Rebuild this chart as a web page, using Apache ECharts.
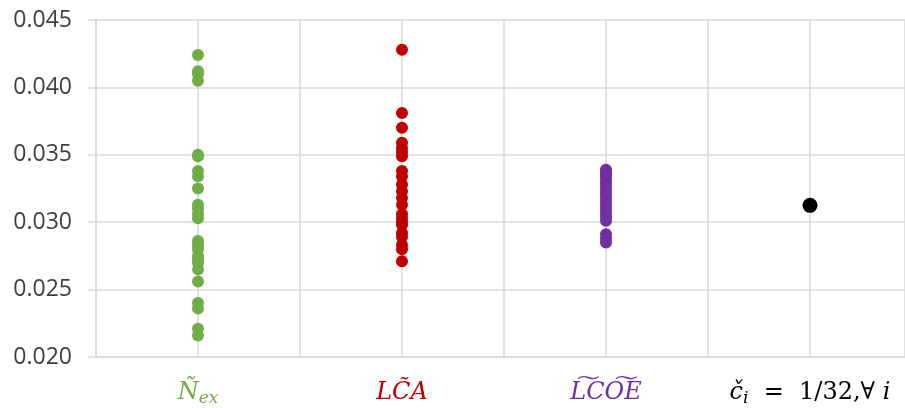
<!DOCTYPE html>
<html>
<head>
<meta charset="utf-8">
<script src="https://cdn.jsdelivr.net/npm/echarts@6/dist/echarts.min.js"></script>
<style>
html,body{margin:0;padding:0;background:#fff;}
#chart{width:905px;height:408px;}
</style>
</head>
<body>
<div id="chart"></div>
<script>
// Category positions (centres of the four groups on a value axis, one unit per group)
const categoryPositions = [0.5, 1.5, 2.5, 3.5];
const categoryNames = ['Nex', 'LCA', 'LCOE', 'ci'];

const yTicks = [0.020, 0.025, 0.030, 0.035, 0.040, 0.045];

const nexValues = [0.0424, 0.0412, 0.0410, 0.0405, 0.0350, 0.0349, 0.0338, 0.0334, 0.0325,
  0.0313, 0.0310, 0.0306, 0.0303, 0.0286, 0.0283, 0.0280, 0.0275, 0.0272, 0.0270, 0.0265,
  0.0256, 0.0240, 0.0236, 0.0221, 0.0216];
const lcaValues = [0.0428, 0.0381, 0.0370, 0.0359, 0.0355, 0.0352, 0.0349, 0.0338, 0.0334,
  0.0328, 0.0323, 0.0318, 0.0313, 0.0306, 0.0303, 0.0300, 0.0298, 0.0292, 0.0289, 0.0283,
  0.0280, 0.0271];
const lcoeValues = [0.0339, 0.0337, 0.0335, 0.0333, 0.0330, 0.0328, 0.0325, 0.0322, 0.0319,
  0.0316, 0.0313, 0.0310, 0.0307, 0.0304, 0.0301, 0.0291, 0.0288, 0.0285];
const ciValues = [0.03125];

function pts(pos, vals) { return vals.map(v => [pos, v]); }

const chart = echarts.init(document.getElementById('chart'), null, {renderer: 'canvas'});
const mathFont = '"DejaVu Serif", "Liberation Serif", serif';
const labelTexts = {
  0.5: '{g|Ñ}{gs|ex}',
  1.5: '{r|LC\u0303A}',
  2.5: '{p|L\u0360CO\u0360E}',
  3.5: '{k|č}{ks|i}{ku|  =  1/32,∀ }{k|i}'
};
chart.setOption({
  animation: false,
  backgroundColor: '#ffffff',
  grid: {left: 96, right: 0, top: 20, bottom: 51, containLabel: false},
  xAxis: {
    type: 'value', min: 0, max: 3.9657, interval: 0.5,
    axisLine: {show: true, lineStyle: {color: '#d9d9d9', width: 1.5}},
    axisTick: {show: false},
    splitLine: {show: true, lineStyle: {color: '#d9d9d9', width: 1.5}},
    axisLabel: {
      margin: 22,
      showMaxLabel: false,
      formatter: function (v) { return labelTexts[v] || ''; },
      rich: {
        g: {fontFamily: mathFont, fontStyle: 'italic', fontSize: 24, color: '#70AD47', lineHeight: 28},
        gs: {fontFamily: mathFont, fontStyle: 'italic', fontSize: 17, color: '#70AD47', lineHeight: 28, verticalAlign: 'bottom', padding: [13, 0, 0, 0]},
        r: {fontFamily: mathFont, fontStyle: 'italic', fontSize: 24, color: '#C00000', lineHeight: 28},
        p: {fontFamily: mathFont, fontStyle: 'italic', fontSize: 24, color: '#7030A0', lineHeight: 28},
        k: {fontFamily: mathFont, fontStyle: 'italic', fontSize: 24, color: '#000000', lineHeight: 28},
        ks: {fontFamily: mathFont, fontStyle: 'italic', fontSize: 17, color: '#000000', lineHeight: 28, verticalAlign: 'bottom', padding: [13, 0, 0, 0]},
        ku: {fontFamily: mathFont, fontSize: 24, color: '#000000', lineHeight: 28}
      }
    }
  },
  yAxis: {
    type: 'value', min: 0.020, max: 0.045, interval: 0.005,
    axisLine: {show: true, lineStyle: {color: '#d9d9d9', width: 1.5}},
    axisTick: {show: true, length: 8, lineStyle: {color: '#d9d9d9', width: 1.5}},
    splitLine: {show: true, lineStyle: {color: '#d9d9d9', width: 1.5}},
    axisLabel: {
      margin: 24,
      color: '#404040',
      fontFamily: '"Open Sans", sans-serif',
      fontSize: 23,
      formatter: v => v.toFixed(3)
    }
  },
  series: [
    {type: 'scatter', data: pts(categoryPositions[0], nexValues), symbolSize: 12, itemStyle: {color: '#70AD47', opacity: 1}},
    {type: 'scatter', data: pts(categoryPositions[1], lcaValues), symbolSize: 12, itemStyle: {color: '#C00000', opacity: 1}},
    {type: 'scatter', data: pts(categoryPositions[2], lcoeValues), symbolSize: 12, itemStyle: {color: '#7030A0', opacity: 1}},
    {type: 'scatter', data: pts(categoryPositions[3], ciValues), symbolSize: 15, itemStyle: {color: '#000000', opacity: 1}}
  ]
});
</script>
</body>
</html>
